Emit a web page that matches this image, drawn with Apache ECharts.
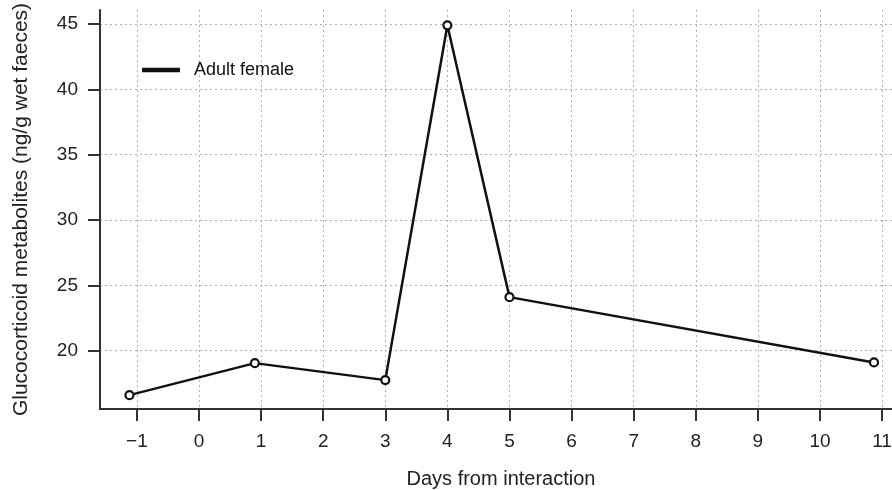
<!DOCTYPE html>
<html>
<head>
<meta charset="utf-8">
<script src="https://cdn.jsdelivr.net/npm/echarts@6/dist/echarts.min.js"></script>
<style>
html,body{margin:0;padding:0;background:#fff;}
#c{width:892px;height:490px;}
</style>
</head>
<body>
<div id="c"></div>
<script>
var days = [-1.12, 0.9, 3.0, 4.0, 5.0, 10.87];
var gcm = [16.6, 19.05, 17.75, 44.9, 24.1, 19.1];
var xTicks = [-1, 0, 1, 2, 3, 4, 5, 6, 7, 8, 9, 10, 11];
var yTicks = [20, 25, 30, 35, 40, 45];
var seriesName = 'Adult female';

var font = 'Liberation Sans, Arial, sans-serif';
var axisColor = '#333';
var gridStyle = {color: '#b0b0b0', width: 1, type: [2, 3]};

var chart = echarts.init(document.getElementById('c'), null, {renderer: 'canvas'});
chart.setOption({
  animation: false,
  backgroundColor: '#fff',
  grid: {left: 100, right: 0, top: 10, bottom: 81, containLabel: false, outerBoundsMode: 'none'},
  legend: {
    left: 137, top: 56,
    data: [{name: seriesName, icon: 'rect'}],
    itemWidth: 36, itemHeight: 2.5, itemGap: 10,
    textStyle: {fontFamily: font, fontSize: 18, color: '#111', padding: [0, 0, 0, 10]},
    itemStyle: {color: '#111'}
  },
  xAxis: {
    type: 'value', min: -1.594, max: 11.16,
    name: 'Days from interaction', nameLocation: 'middle', nameGap: 60,
    nameMoveOverlap: false,
    nameTextStyle: {fontFamily: font, fontSize: 20, color: '#222', padding: [0, 0, 0, 10]},
    axisLine: {show: true, onZero: false, lineStyle: {color: axisColor, width: 2}},
    axisTick: {show: true, length: 12, customValues: xTicks, lineStyle: {color: axisColor, width: 2}},
    axisLabel: {customValues: xTicks, margin: 23, fontFamily: font, fontSize: 19, color: '#222',
      formatter: function (v) { return v < 0 ? '\u2212' + Math.abs(v) : String(v); }},
    splitLine: {show: true, lineStyle: gridStyle}
  },
  yAxis: {
    type: 'value', min: 15.54, max: 46.07,
    name: 'Glucocorticoid metabolites (ng/g wet faeces)', nameLocation: 'middle', nameGap: 68,
    nameMoveOverlap: false,
    nameTextStyle: {fontFamily: font, fontSize: 21, color: '#222'},
    axisLine: {show: true, onZero: false, lineStyle: {color: axisColor, width: 2}},
    axisTick: {show: true, length: 12, customValues: yTicks, lineStyle: {color: axisColor, width: 2}},
    axisLabel: {customValues: yTicks, margin: 22, fontFamily: font, fontSize: 19, color: '#222'},
    splitLine: {show: true, lineStyle: gridStyle}
  },
  series: [{
    name: seriesName,
    type: 'line',
    data: days.map(function (d, i) { return [d, gcm[i]]; }),
    symbol: 'circle', symbolSize: 8,
    lineStyle: {color: '#111', width: 2.5},
    itemStyle: {color: '#fff', borderColor: '#111', borderWidth: 2.2},
    z: 5
  }]
});
</script>
</body>
</html>
